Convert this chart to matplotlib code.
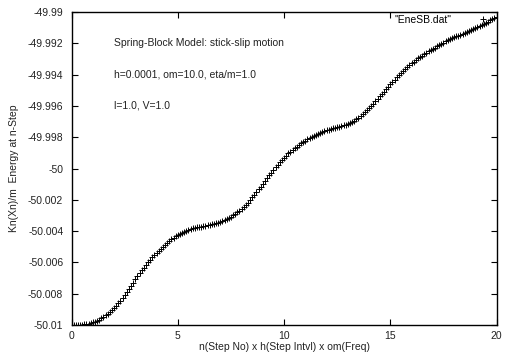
import numpy as np
import matplotlib
matplotlib.use('Agg')
import matplotlib.pyplot as plt
from matplotlib.ticker import MultipleLocator, FuncFormatter

plt.rcParams['font.family'] = ['Liberation Sans', 'DejaVu Sans']

# time axis: n x h x om, sampled every 0.1
steps = np.linspace(0, 20, 201)

# energy, as offset from -50.01 in units of 1e-3
energy_base = -50.01
energy_offset = [
    0.000, 0.000, 0.001, 0.005, 0.011, 0.020, 0.035, 0.056, 0.083, 0.117,
    0.170, 0.210, 0.270, 0.340, 0.420, 0.510, 0.610, 0.720, 0.840, 0.970,
    1.100, 1.240, 1.390, 1.550, 1.720, 1.900, 2.090, 2.290, 2.500, 2.710,
    2.920, 3.120, 3.310, 3.490, 3.670, 3.840, 4.010, 4.170, 4.320, 4.470,
    4.610, 4.750, 4.880, 5.010, 5.130, 5.250, 5.360, 5.470, 5.570, 5.660,
    5.750, 5.830, 5.900, 5.970, 6.030, 6.080, 6.130, 6.170, 6.210, 6.240,
    6.270, 6.290, 6.320, 6.340, 6.370, 6.400, 6.430, 6.460, 6.490, 6.530,
    6.570, 6.620, 6.680, 6.750, 6.830, 6.920, 7.010, 7.100, 7.200, 7.310,
    7.420, 7.550, 7.680, 7.820, 7.980, 8.150, 8.320, 8.490, 8.670, 8.840,
    9.020, 9.200, 9.380, 9.560, 9.740, 9.920, 10.090, 10.250, 10.410, 10.560,
    10.700, 10.830, 10.960, 11.080, 11.190, 11.300, 11.400, 11.500, 11.600, 11.690,
    11.780, 11.860, 11.940, 12.010, 12.080, 12.150, 12.210, 12.270, 12.330, 12.390,
    12.450, 12.490, 12.530, 12.570, 12.610, 12.650, 12.680, 12.710, 12.750, 12.800,
    12.850, 12.910, 12.980, 13.060, 13.150, 13.250, 13.360, 13.470, 13.590, 13.720,
    13.850, 14.000, 14.150, 14.300, 14.460, 14.620, 14.770, 14.920, 15.080, 15.230,
    15.380, 15.530, 15.670, 15.820, 15.960, 16.100, 16.230, 16.360, 16.490, 16.610,
    16.720, 16.830, 16.930, 17.030, 17.130, 17.220, 17.310, 17.400, 17.480, 17.570,
    17.650, 17.730, 17.810, 17.890, 17.970, 18.050, 18.120, 18.190, 18.250, 18.320,
    18.380, 18.440, 18.490, 18.550, 18.600, 18.660, 18.720, 18.770, 18.830, 18.890,
    18.950, 19.020, 19.090, 19.160, 19.230, 19.300, 19.380, 19.460, 19.540, 19.620,
    19.700,
]
energy = energy_base + np.array(energy_offset) * 1e-3

labels = [
    'Spring-Block Model: stick-slip motion',
    'h=0.0001, om=10.0, eta/m=1.0',
    'l=1.0, V=1.0',
]
label_y = [-49.992, -49.994, -49.996]

fig = plt.figure(figsize=(5.05, 3.54), dpi=100)
ax = fig.add_axes([0.1416, 0.0819, 0.8416, 0.8842])

ax.plot(steps, energy, linestyle='none', marker='+', markersize=4,
        markeredgewidth=0.7, color='black', label='"EneSB.dat"')

for txt, yy in zip(labels, label_y):
    ax.text(2.0, yy, txt, fontsize=7.5, va='center', ha='left', color='#222222')

ax.set_xlim(0, 20)
ax.set_ylim(-50.01, -49.99)
ax.xaxis.set_major_locator(MultipleLocator(5))
ax.yaxis.set_major_locator(MultipleLocator(0.002))
ax.yaxis.set_major_formatter(FuncFormatter(lambda v, p: '%g' % round(v, 6)))

ax.tick_params(direction='in', length=4, width=0.8, top=True, right=True,
               labelsize=7.5, colors='black', labelcolor='#222222')
ax.tick_params(axis='y', pad=6)
ax.tick_params(axis='x', pad=4)
for s in ax.spines.values():
    s.set_linewidth(1.0)

ax.set_xlabel('n(Step No) x h(Step Intvl) x om(Freq)', fontsize=7.5, labelpad=1, color='#222222')
ax.set_ylabel('Kn(Xn)/m  Energy at n-Step', fontsize=7.5, labelpad=6, color='#222222')

ax.legend(loc='upper right', markerfirst=False, frameon=False, fontsize=7.5,
          handlelength=2.0, handletextpad=2.0, borderaxespad=0.0, borderpad=0.3)

plt.savefig('out.png', dpi=100)
plt.close()
